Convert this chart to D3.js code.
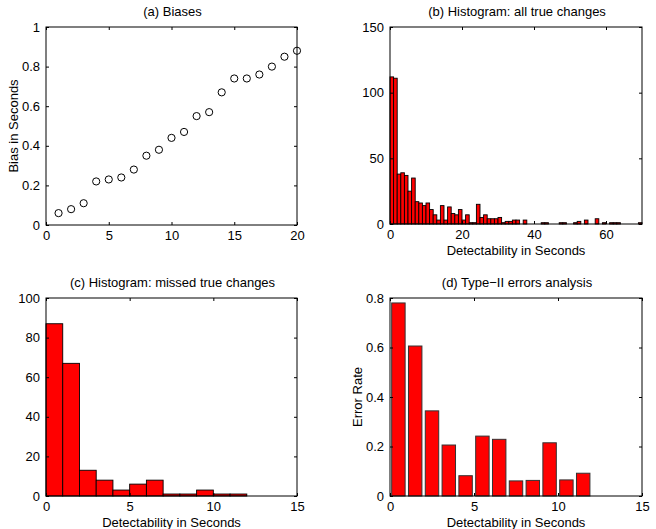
<!DOCTYPE html>
<html>
<head>
<meta charset="utf-8">
<script src="https://cdn.jsdelivr.net/npm/d3@7"></script>
<style>
  body { margin: 0; background: #fff; }
  svg text { font-family: "Liberation Sans", Arial, sans-serif; font-size: 13px; fill: #000; }
  .domain { display: none; }
</style>
</head>
<body>
<svg width="656" height="529"></svg>
<script>
// (a) biases, one per index 1..20
const biasIndex = d3.range(1, 21);
const biasValues = [0.06, 0.08, 0.11, 0.22, 0.23, 0.24, 0.28, 0.35, 0.38, 0.44,
                    0.47, 0.55, 0.57, 0.67, 0.74, 0.74, 0.76, 0.80, 0.85, 0.88];

// (b) histogram of all true changes, bins of 1 s over 0..70
const allCounts = [112, 111, 38, 39, 37, 25, 35, 17, 16, 14,
                   16, 11, 7, 3, 14, 3, 13, 8, 7, 11,
                   3, 7, 1, 1, 15, 5, 7, 4, 4, 4,
                   5, 1, 2, 2, 3, 3, 0, 3, 0, 0,
                   0, 0, 1, 1, 0, 0, 0, 1, 1, 0,
                   0, 1, 2, 0, 3, 0, 0, 4, 0, 1,
                   0, 1, 1, 1, 0, 0, 0, 0, 0, 1];

// (c) histogram of missed true changes, bins of 1 s over 0..15
const missedCounts = [87, 67, 13, 8, 3, 6, 8, 1, 1, 3, 1, 1, 0, 0, 0];

// (d) type-II error rate per 1 s bin
const errorRates = [0.78, 0.606, 0.344, 0.206, 0.082, 0.242, 0.229, 0.061, 0.063, 0.215,
                    0.065, 0.092, 0, 0, 0];

const aTicksX = [0, 5, 10, 15, 20];
const aTicksY = [0, 0.2, 0.4, 0.6, 0.8, 1];
const bTicksX = [0, 20, 40, 60];
const bTicksY = [0, 50, 100, 150];
const cTicksX = [0, 5, 10, 15];
const cTicksY = [0, 20, 40, 60, 80, 100];
const dTicksX = [0, 5, 10, 15];
const dTicksY = [0, 0.2, 0.4, 0.6, 0.8];

const svg = d3.select("svg");

// draws the frame, inward ticks on all four sides and labels
function makePanel(box, xDom, yDom, xt, yt, title, xlabel, ylabel) {
  const x = d3.scaleLinear().domain(xDom).range([box.x0, box.x1]);
  const y = d3.scaleLinear().domain(yDom).range([box.y1, box.y0]);
  const g = svg.append("g");
  const marks = g.append("g");

  const fmt = d => String(d);
  g.append("g").attr("transform", `translate(0,${box.y1})`)
    .call(d3.axisBottom(x).tickValues(xt).tickFormat(fmt).tickSizeInner(-3).tickPadding(6));
  g.append("g").attr("transform", `translate(0,${box.y0})`)
    .call(d3.axisTop(x).tickValues(xt).tickFormat("").tickSizeInner(-3));
  g.append("g").attr("transform", `translate(${box.x0},0)`)
    .call(d3.axisLeft(y).tickValues(yt).tickFormat(fmt).tickSizeInner(-3).tickPadding(6));
  g.append("g").attr("transform", `translate(${box.x1},0)`)
    .call(d3.axisRight(y).tickValues(yt).tickFormat("").tickSizeInner(-3));
  g.selectAll(".tick line").attr("stroke", "#000");
  g.selectAll(".tick text").style("font-size", "13px");

  g.append("rect")
    .attr("x", box.x0).attr("y", box.y0)
    .attr("width", box.x1 - box.x0).attr("height", box.y1 - box.y0)
    .attr("fill", "none").attr("stroke", "#000").attr("stroke-width", 1);

  g.append("text").attr("x", (box.x0 + box.x1) / 2 + 1).attr("y", box.y0 - 11)
    .attr("text-anchor", "middle").text(title);
  if (xlabel) {
    g.append("text").attr("x", (box.x0 + box.x1) / 2).attr("y", box.y1 + 31)
      .attr("text-anchor", "middle").text(xlabel);
  }
  if (ylabel) {
    g.append("text")
      .attr("transform", `translate(${box.x0 - 28},${(box.y0 + box.y1) / 2}) rotate(-90)`)
      .attr("text-anchor", "middle").text(ylabel);
  }
  return { x, y, marks };
}

// (a)
const pa = makePanel({ x0: 46, x1: 297, y0: 27, y1: 225 }, [0, 20], [0, 1],
  aTicksX, aTicksY, "(a) Biases", null, "Bias in Seconds");
pa.marks.selectAll("circle").data(biasValues).join("circle")
  .attr("cx", (d, i) => pa.x(biasIndex[i]))
  .attr("cy", d => pa.y(d))
  .attr("r", 3.6)
  .attr("fill", "none").attr("stroke", "#000").attr("stroke-width", 1);

// histogram bars: each bin spans [i, i+1]
function histBars(p, counts) {
  p.marks.selectAll("rect").data(counts).join("rect")
    .attr("x", (d, i) => p.x(i))
    .attr("width", (d, i) => p.x(i + 1) - p.x(i))
    .attr("y", d => p.y(d))
    .attr("height", d => p.y(0) - p.y(d))
    .attr("fill", "#ff0000").attr("stroke", "#000").attr("stroke-width", 0.9);
}

// (b)
const pb = makePanel({ x0: 390, x1: 642, y0: 27, y1: 224 }, [0, 70], [0, 150],
  bTicksX, bTicksY, "(b) Histogram: all true changes", "Detectability in Seconds", null);
histBars(pb, allCounts);

// (c)
const pc = makePanel({ x0: 46, x1: 297, y0: 298, y1: 496 }, [0, 15], [0, 100],
  cTicksX, cTicksY, "(c) Histogram: missed true changes", "Detectability in Seconds", null);
histBars(pc, missedCounts);

// (d) bars of width 0.8 centred in each bin
const pd = makePanel({ x0: 390, x1: 642, y0: 298, y1: 496 }, [0, 15], [0, 0.8],
  dTicksX, dTicksY, "(d) Type\u2212II errors analysis", "Detectability in Seconds", "Error Rate");
pd.marks.selectAll("rect").data(errorRates).join("rect")
  .attr("x", (d, i) => pd.x(i + 0.1))
  .attr("width", (d, i) => pd.x(i + 0.9) - pd.x(i + 0.1))
  .attr("y", d => pd.y(d))
  .attr("height", d => pd.y(0) - pd.y(d))
  .attr("fill", "#ff0000").attr("stroke", "#333").attr("stroke-width", 1);
</script>
</body>
</html>
